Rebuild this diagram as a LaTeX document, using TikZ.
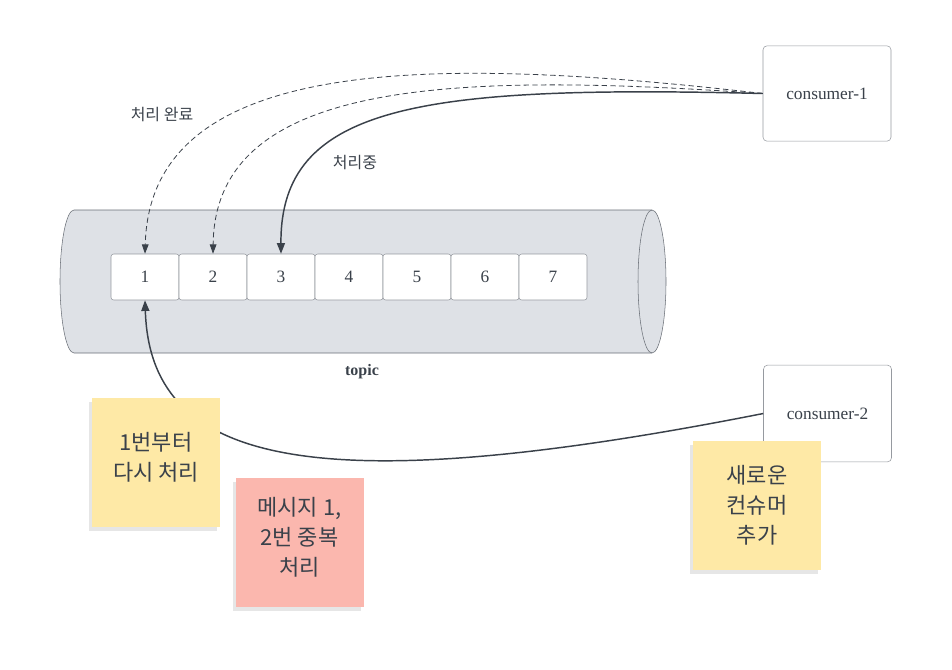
\documentclass[tikz,border=0pt]{standalone}
\usepackage{fontspec}
\setmainfont{Liberation Serif}
\newfontfamily\kr{Noto Sans CJK KR}
\usetikzlibrary{arrows.meta,shadows}
\definecolor{inkgray}{RGB}{58,65,74}
\definecolor{tubegray}{RGB}{222,225,230}
\definecolor{edgegray}{RGB}{150,154,160}
\definecolor{tubeedge}{RGB}{105,110,118}
\definecolor{noteyellow}{RGB}{254,233,166}
\definecolor{notepink}{RGB}{251,183,174}

\begin{document}
\begin{tikzpicture}[x=0.75pt, y=-0.75pt, every node/.style={text=inkgray}]
\tikzset{
  msg/.style={draw=edgegray, fill=white, rounded corners=2pt, minimum width=51pt, minimum height=34.5pt, font=\fontsize{13}{15}\selectfont},
  consumer/.style={draw=edgegray, fill=white, rounded corners=3pt, minimum width=96pt, minimum height=71.5pt, font=\fontsize{13}{15}\selectfont},
  note/.style={minimum width=96pt, minimum height=96.5pt, align=center, font=\kr\fontsize{16.5}{22.5}\selectfont, drop shadow={shadow xshift=-2pt, shadow yshift=-3pt, opacity=0.2}},
  lbl/.style={font=\kr\fontsize{12}{14}\selectfont},
  done/.style={dash pattern=on 4pt off 2.5pt, line width=0.6pt, draw=inkgray, -{Triangle[length=7pt,width=5pt]}},
  busy/.style={line width=1.1pt, draw=inkgray, -{Triangle[length=8pt,width=6pt]}}
}
\useasboundingbox (0,0) rectangle (952,669);

% topic tube
\draw[fill=tubegray, draw=tubeedge] (74,210) -- (652,210)
  arc[start angle=-90, end angle=90, x radius=14, y radius=71.5] -- (74,353)
  arc[start angle=90, end angle=270, x radius=14, y radius=71.5] -- cycle;
\draw[draw=tubeedge] (652,210) arc[start angle=-90, end angle=-270, x radius=14, y radius=71.5];
\node[font=\bfseries\fontsize{12}{14}\selectfont] (topiclbl) at (362,372) {topic};

% messages
\foreach \i in {1,...,7}
  \node[msg] (m\i) at ({145+68*(\i-1)},277) {\i};

% consumers
\node[consumer] (c1) at (827,93.5) {consumer-1};
\node[consumer, minimum height=72.5pt] (c2) at (827.5,413.5) {consumer-2};

% offsets
\draw[done] (c1.west) .. controls (430,55) and (150,55) .. (m1.north);
\draw[done] (c1.west) .. controls (450,72) and (215,80) .. (m2.north);
\draw[busy] (c1.west) .. controls (420,85) and (280,105) .. (m3.north);
\draw[busy] (c2.west) .. controls (300,505) and (150,460) .. (m1.south);

\node[lbl] (donelbl) at (162,115) {처리 완료};
\node[lbl] (busylbl) at (355,163) {처리중};

% sticky notes
\node[note, fill=noteyellow] (restart) at (156,462.5) {1번부터\\다시 처리\\[-13.5pt]};
\node[note, fill=notepink] (dup) at (299.5,542.5) {메시지 1,\\2번 중복\\처리\\[-13.5pt]};
\node[note, fill=noteyellow] (added) at (757,505.5) {새로운\\컨슈머\\추가};
\end{tikzpicture}
\end{document}
